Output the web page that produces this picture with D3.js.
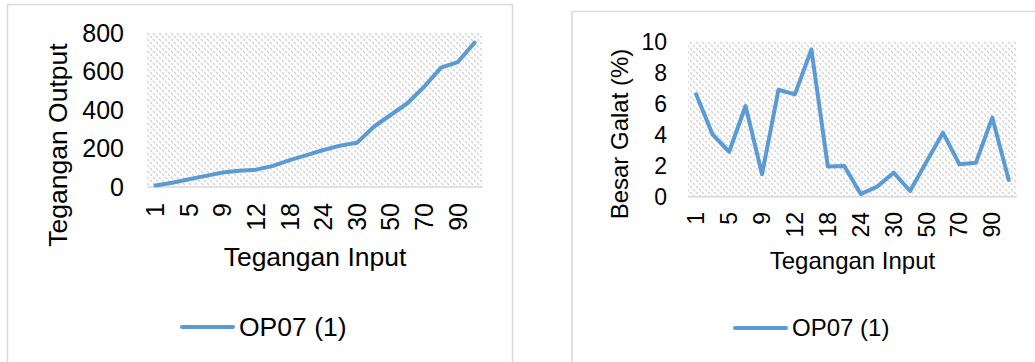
<!DOCTYPE html>
<html>
<head>
<meta charset="utf-8">
<script src="https://d3js.org/d3.v7.min.js"></script>
<style>
  body { margin: 0; background: #fff; }
  text { font-family: "Liberation Sans", Arial, sans-serif; fill: #000; }
</style>
</head>
<body>
<svg id="chart" width="1035" height="362"></svg>
<script>
// tegangan input categories (only every other one gets a label)
var inputs = ["1", "3", "5", "7", "9", "10", "12", "15", "18", "21", "24", "27", "30", "40", "50", "60", "70", "80", "90", "100"];
// tegangan output for OP07 (1)
var outputs = [8, 22, 40, 58, 75, 85, 90, 110, 140, 166, 192, 215, 230, 313, 374, 435, 521, 620, 649, 750];
// besar galat (%) for OP07 (1)
var galat = [6.6, 4.0, 2.9, 5.85, 1.45, 6.9, 6.6, 9.5, 1.95, 1.98, 0.17, 0.65, 1.55, 0.37, 2.26, 4.13, 2.09, 2.19, 5.1, 1.08];
var yTicksOutput = [0, 200, 400, 600, 800];
var yTicksGalat = [0, 2, 4, 6, 8, 10];
var seriesName = "OP07 (1)";

var blue = "#5b9bd5";
var svg = d3.select("#chart");

// hatch pattern used for the plot area
var defs = svg.append("defs");
var pat = defs.append("pattern")
  .attr("id", "hatch")
  .attr("patternUnits", "userSpaceOnUse")
  .attr("width", 6).attr("height", 6);
pat.append("path")
  .attr("d", "M0,0 L2,2 M3,3 L5,5 M-1,5 L0,6 M5,-1 L6,0")
  .attr("stroke", "#d4d4d4")
  .attr("stroke-width", 1.5);

function drawChart(opt) {
  var g = svg.append("g");
  var fs = opt.tickSize + "px";
  var ts = opt.titleSize + "px";

  // outer frame
  g.append("rect")
    .attr("x", opt.frame[0]).attr("y", opt.frame[1])
    .attr("width", opt.frame[2]).attr("height", opt.frame[3])
    .attr("fill", "none").attr("stroke", "#d9d9d9").attr("stroke-width", 1.5);

  var x = d3.scaleBand().domain(inputs).range([opt.left, opt.right]);
  var y = d3.scaleLinear().domain([0, opt.yMax]).range([opt.bottom, opt.top]);

  g.append("rect")
    .attr("x", opt.left).attr("y", opt.top)
    .attr("width", opt.right - opt.left).attr("height", opt.bottom - opt.top)
    .attr("fill", "url(#hatch)");

  // x axis line
  g.append("line")
    .attr("x1", opt.left).attr("x2", opt.right)
    .attr("y1", opt.bottom).attr("y2", opt.bottom)
    .attr("stroke", "#d9d9d9").attr("stroke-width", 1.5);

  // y tick labels
  g.selectAll(".ytick").data(opt.yTicks).enter().append("text")
    .attr("x", opt.yLabelX)
    .attr("y", function(d) { return y(d); })
    .attr("dy", "0.35em")
    .attr("text-anchor", "end")
    .attr("font-size", fs)
    .text(function(d) { return d; });

  // x tick labels, rotated, every other category
  g.selectAll(".xtick").data(inputs.filter(function(d, i) { return i % 2 == 0; })).enter().append("text")
    .attr("transform", function(d) {
      return "translate(" + (x(d) + x.bandwidth() / 2) + "," + opt.xLabelY + ") rotate(-90)";
    })
    .attr("dy", "0.35em")
    .attr("text-anchor", "end")
    .attr("font-size", fs)
    .text(function(d) { return d; });

  // the line
  g.append("path")
    .datum(opt.values)
    .attr("fill", "none")
    .attr("stroke", blue)
    .attr("stroke-width", 4)
    .attr("stroke-linejoin", "round")
    .attr("stroke-linecap", "round")
    .attr("d", d3.line()
      .x(function(d, i) { return x(inputs[i]) + x.bandwidth() / 2; })
      .y(function(d) { return y(d); }));

  // axis titles
  g.append("text")
    .attr("text-anchor", "middle")
    .attr("x", (opt.left + opt.right) / 2)
    .attr("y", opt.xTitleY)
    .attr("font-size", ts)
    .text("Tegangan Input");
  g.append("text")
    .attr("text-anchor", "middle")
    .attr("transform", "translate(" + opt.yTitle[0] + "," + opt.yTitle[1] + ") rotate(-90)")
    .attr("dy", "0.35em")
    .attr("font-size", ts)
    .text(opt.yTitleText);

  // legend
  g.append("line")
    .attr("x1", opt.legend[0]).attr("x2", opt.legend[0] + 51)
    .attr("y1", opt.legend[1]).attr("y2", opt.legend[1])
    .attr("stroke", blue).attr("stroke-width", 4).attr("stroke-linecap", "round");
  g.append("text")
    .attr("x", opt.legend[0] + 57)
    .attr("y", opt.legend[1])
    .attr("dy", "0.35em")
    .attr("font-size", ts)
    .text(seriesName);
}

drawChart({
  frame: [7.5, 4.5, 505, 370],
  left: 147, right: 483, top: 33, bottom: 187,
  yMax: 800, yTicks: yTicksOutput, values: outputs,
  tickSize: 25, titleSize: 26.5, yLabelX: 124, xLabelY: 203, xTitleY: 266,
  yTitle: [58, 145], yTitleText: "Tegangan Output",
  legend: [182, 327]
});

drawChart({
  frame: [572, 11.5, 480, 370],
  left: 688, right: 1017, top: 41.7, bottom: 196.7,
  yMax: 10, yTicks: yTicksGalat, values: galat,
  tickSize: 23, titleSize: 24, yLabelX: 667, xLabelY: 212, xTitleY: 269,
  yTitle: [620, 134], yTitleText: "Besar Galat (%)",
  legend: [735, 328]
});
</script>
</body>
</html>
